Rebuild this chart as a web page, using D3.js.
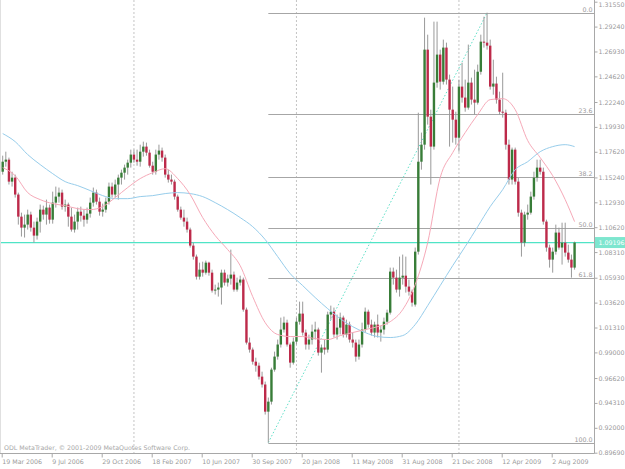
<!DOCTYPE html>
<html>
<head>
<meta charset="utf-8">
<script src="https://cdn.jsdelivr.net/npm/d3@7"></script>
<style>
  body { margin: 0; background: #fff; }
  svg text { font-family: "DejaVu Sans", sans-serif; font-size: 6.3px; fill: #9a9a9a; }
</style>
</head>
<body>
<div id="chart"></div>
<script>
// weekly bars, first bar = 19 Mar 2006
const opens = [1.1577,1.1670,1.1689,1.1485,1.1522,1.1365,1.1160,1.1058,1.1086,1.1179,1.1058,1.0984,1.1114,1.1225,1.1179,1.1244,1.1132,1.1290,1.1346,1.1383,
1.1253,1.1272,1.1160,1.1040,1.1114,1.1206,1.1169,1.1132,1.1188,1.1290,1.1383,1.1299,1.1206,1.1225,1.1299,1.1439,1.1365,1.1458,1.1522,1.1568,
1.1615,1.1661,1.1736,1.1689,1.1670,1.1763,1.1810,1.1754,1.1633,1.1577,1.1736,1.1773,1.1708,1.1550,1.1504,1.1485,1.1346,1.1225,1.1151,1.1114,
1.1040,1.0891,1.0789,1.0603,1.0668,1.0640,1.0733,1.0640,1.0474,1.0483,1.0502,1.0640,1.0548,1.0585,1.0622,1.0483,1.0548,1.0576,1.0297,0.9991,
0.9926,0.9814,0.9777,0.9675,0.9602,0.9350,0.9443,0.9740,0.9861,0.9973,1.0112,1.0176,0.9973,0.9805,1.0000,1.0185,1.0260,1.0084,0.9973,1.0019,
1.0093,1.0112,0.9898,0.9945,0.9926,1.0251,1.0278,1.0066,1.0130,1.0223,1.0066,1.0158,1.0019,0.9991,0.9861,0.9973,1.0112,1.0278,1.0158,1.0084,
1.0158,1.0084,1.0112,1.0185,1.0269,1.0650,1.0594,1.0483,1.0594,1.0612,1.0511,1.0464,1.0344,1.0835,1.1670,1.1828,1.2710,1.2088,1.1810,1.2404,
1.2664,1.2413,1.2729,1.2432,1.2153,1.2060,1.1893,1.2367,1.2265,1.2172,1.2404,1.2246,1.2218,1.2505,1.2784,1.2775,1.2747,1.2367,1.2395,1.2246,
1.2134,1.2125,1.1828,1.1504,1.1782,1.1485,1.1197,1.0919,1.1179,1.1197,1.1346,1.1522,1.1615,1.1577,1.1114,1.0873,1.0761,1.0835,1.1012,1.0873,
1.0919,1.0826,1.0761,1.0687];
const highs = [1.1726,1.1763,1.1708,1.1577,1.1550,1.1383,1.1197,1.1179,1.1225,1.1206,1.1114,1.1151,1.1272,1.1262,1.1318,1.1272,1.1392,1.1439,1.1430,1.1411,
1.1318,1.1290,1.1244,1.1179,1.1244,1.1253,1.1225,1.1244,1.1337,1.1430,1.1411,1.1337,1.1281,1.1337,1.1476,1.1476,1.1504,1.1550,1.1596,1.1643,
1.1689,1.1782,1.1782,1.1782,1.1828,1.1856,1.1847,1.1782,1.1670,1.1782,1.1828,1.1801,1.1736,1.1596,1.1550,1.1504,1.1365,1.1253,1.1225,1.1151,
1.1058,1.0919,1.0808,1.0733,1.0742,1.0752,1.0742,1.0668,1.0529,1.0548,1.0668,1.0668,1.0622,1.0854,1.0650,1.0594,1.0612,1.0594,1.0316,1.0038,
0.9945,0.9851,0.9805,0.9721,0.9629,0.9481,0.9758,0.9907,1.0019,1.0223,1.0232,1.0204,0.9991,1.0038,1.0223,1.0371,1.0371,1.0112,1.0065,1.0158,
1.0185,1.0130,0.9973,1.0019,1.0278,1.0334,1.0316,1.0251,1.0269,1.0241,1.0204,1.0185,1.0084,1.0019,1.0019,1.0176,1.0316,1.0297,1.0204,1.0185,
1.0251,1.0148,1.0223,1.0297,1.0687,1.0687,1.0668,1.0789,1.0808,1.0789,1.0576,1.0483,1.0873,1.2125,1.1940,1.3007,1.2849,1.2153,1.2970,1.2970,
1.2710,1.2803,1.2775,1.2478,1.2367,1.2134,1.2432,1.2589,1.2432,1.2757,1.2450,1.2524,1.2571,1.2849,1.3016,1.3053,1.2803,1.2617,1.2459,1.2320,
1.2496,1.2153,1.1875,1.1801,1.1801,1.1522,1.1225,1.1206,1.1272,1.1392,1.1577,1.1689,1.1689,1.1615,1.1132,1.0900,1.0873,1.1086,1.1058,1.1104,
1.1104,1.0900,1.0808,1.0928];
const lows = [1.1550,1.1624,1.1458,1.1439,1.1337,1.1086,1.0975,1.0966,1.1040,1.1021,1.0919,1.0947,1.1012,1.1132,1.1086,1.1095,1.1095,1.1244,1.1290,1.1225,
1.1206,1.1067,1.1021,1.1012,1.1040,1.1114,1.1067,1.1095,1.1151,1.1253,1.1272,1.1169,1.1160,1.1197,1.1272,1.1337,1.1337,1.1318,1.1458,1.1504,
1.1550,1.1615,1.1661,1.1633,1.1624,1.1717,1.1726,1.1615,1.1550,1.1550,1.1689,1.1670,1.1522,1.1476,1.1458,1.1318,1.1206,1.1132,1.1067,1.1012,
1.0873,1.0761,1.0576,1.0576,1.0603,1.0622,1.0612,1.0455,1.0437,1.0418,1.0344,1.0520,1.0511,1.0529,1.0464,1.0464,1.0520,1.0278,0.9973,0.9898,
0.9787,0.9721,0.9648,0.9574,0.9323,0.9063,0.9416,0.9721,0.9833,0.9945,1.0084,0.9954,0.9758,0.9787,0.9973,1.0158,1.0056,0.9926,0.9926,0.9973,
1.0019,0.9870,0.9712,0.9880,0.9898,1.0204,1.0038,1.0019,1.0066,1.0038,1.0038,0.9991,0.9945,0.9814,0.9833,0.9945,1.0084,1.0130,1.0056,1.0038,
1.0038,1.0000,1.0066,1.0158,1.0251,1.0529,1.0455,1.0418,1.0529,1.0455,1.0427,1.0325,1.0325,1.0808,1.1596,1.1782,1.2014,1.1458,1.1782,1.2357,
1.2339,1.2386,1.2386,1.1810,1.1847,1.1828,1.1763,1.2218,1.2134,1.2153,1.2200,1.2107,1.2200,1.2478,1.2729,1.2710,1.2339,1.2292,1.2209,1.2107,
1.2079,1.1782,1.1458,1.1458,1.1458,1.1160,1.0789,1.0882,1.1132,1.1179,1.1318,1.1485,1.1550,1.1086,1.0835,1.0687,1.0640,1.0808,1.0854,1.0715,
1.0789,1.0733,1.0594,1.0668];
const closes = [1.1670,1.1689,1.1485,1.1522,1.1365,1.1160,1.1058,1.1086,1.1179,1.1058,1.0984,1.1114,1.1225,1.1179,1.1244,1.1132,1.1290,1.1346,1.1383,1.1253,
1.1272,1.1160,1.1040,1.1114,1.1206,1.1169,1.1132,1.1188,1.1290,1.1383,1.1299,1.1206,1.1225,1.1299,1.1439,1.1365,1.1458,1.1522,1.1568,1.1615,
1.1661,1.1736,1.1689,1.1670,1.1763,1.1810,1.1754,1.1633,1.1577,1.1736,1.1773,1.1708,1.1550,1.1504,1.1485,1.1346,1.1225,1.1151,1.1114,1.1040,
1.0891,1.0789,1.0603,1.0668,1.0640,1.0733,1.0640,1.0474,1.0483,1.0502,1.0640,1.0548,1.0585,1.0622,1.0483,1.0548,1.0576,1.0297,0.9991,0.9926,
0.9814,0.9777,0.9675,0.9602,0.9350,0.9443,0.9740,0.9861,0.9973,1.0112,1.0176,0.9973,0.9805,1.0000,1.0185,1.0260,1.0084,0.9973,1.0019,1.0093,
1.0112,0.9898,0.9945,0.9926,1.0251,1.0278,1.0066,1.0130,1.0223,1.0066,1.0158,1.0019,0.9991,0.9861,0.9973,1.0112,1.0278,1.0158,1.0084,1.0158,
1.0084,1.0112,1.0185,1.0269,1.0650,1.0594,1.0483,1.0594,1.0612,1.0511,1.0464,1.0362,1.0835,1.1670,1.1828,1.2710,1.2088,1.1810,1.2404,1.2664,
1.2413,1.2729,1.2432,1.2153,1.2060,1.1893,1.2367,1.2265,1.2172,1.2404,1.2246,1.2218,1.2505,1.2784,1.2775,1.2747,1.2367,1.2395,1.2246,1.2134,
1.2125,1.1828,1.1504,1.1782,1.1485,1.1197,1.0919,1.1179,1.1197,1.1346,1.1522,1.1615,1.1577,1.1114,1.0873,1.0761,1.0835,1.1012,1.0873,1.0919,
1.0826,1.0761,1.0687,1.09196];

// moving averages, read every 4th bar
const maBars = [0,4,8,12,16,20,24,28,32,36,40,44,48,52,56,60,64,68,72,76,80,84,88,92,96,100,104,108,112,116,120,124,128,132,136,140,144,148,152,156,160,164,168,172,176,180,183];
const pinkMA = [1.1615,1.1540,1.1383,1.1318,1.1281,1.1262,1.1234,1.1225,1.1253,1.1337,1.1430,1.1513,1.1568,1.1605,1.1513,1.1365,1.1151,1.0984,1.0854,1.0705,
1.0418,1.0176,1.0066,1.0047,1.0047,1.0028,1.0019,1.0056,1.0084,1.0112,1.0139,1.0185,1.0297,1.0529,1.0919,1.1522,1.1754,1.1940,1.2107,1.2246,
1.2255,1.2153,1.1866,1.1708,1.1540,1.1318,1.1114];
const blueMA = [1.1931,1.1856,1.1736,1.1643,1.1559,1.1485,1.1448,1.1402,1.1355,1.1327,1.1327,1.1346,1.1355,1.1374,1.1383,1.1374,1.1346,1.1290,1.1225,1.1151,
1.1067,1.0947,1.0789,1.0631,1.0520,1.0409,1.0306,1.0213,1.0139,1.0084,1.0047,1.0038,1.0056,1.0158,1.0334,1.0520,1.0705,1.0882,1.1067,1.1253,
1.1411,1.1596,1.1670,1.1763,1.1810,1.1828,1.1810];

// axis labels
const priceTicks = [1.31550,1.29240,1.26930,1.24620,1.22240,1.19930,1.17620,1.15240,1.12930,1.10620,1.08310,1.05930,1.03620,1.01310,0.99000,0.96620,0.94310,0.92000,0.89690];
const tickBars = [0,16,32,48,64,80,96,112,128,144,160,176];
const tickLabels = ["19 Mar 2006","9 Jul 2006","29 Oct 2006","18 Feb 2007","10 Jun 2007","30 Sep 2007","20 Jan 2008","11 May 2008","31 Aug 2008","21 Dec 2008","12 Apr 2009","2 Aug 2009"];
const yearBars = [42, 94, 146];

// fibonacci from the Nov 2007 low to the Mar 2009 high
const fibLevels = [0, 23.6, 38.2, 50, 61.8, 100];
const fibLowBar = 85, fibLow = 0.9063;
const fibHighBar = 155, fibHigh = 1.3053;
const lastPrice = 1.09196;

const W = 625, H = 469;
const plotRight = 594.5, plotBottom = 453.5;

const svg = d3.select("#chart").append("svg")
    .attr("width", W)
    .attr("height", H);

const x = d3.scaleLinear()
    .domain([0, opens.length - 1])
    .range([2.7, 2.7 + 3.125 * (opens.length - 1)]);
const y = d3.scaleLinear()
    .domain([0.8969, 1.3155])
    .range([452.7, 1.7]);

// year separators
svg.append("g").selectAll("line")
    .data(yearBars)
    .join("line")
    .attr("x1", d => x(d)).attr("x2", d => x(d))
    .attr("y1", 0).attr("y2", plotBottom)
    .attr("stroke", "#c4c4c4")
    .attr("stroke-dasharray", "2,2");

// fib levels
const fibPrice = l => fibHigh - (fibHigh - fibLow) * l / 100;
const fib = svg.append("g");
fib.selectAll("line")
    .data(fibLevels)
    .join("line")
    .attr("x1", x(fibLowBar)).attr("x2", plotRight)
    .attr("y1", d => Math.round(y(fibPrice(d))) + 0.5)
    .attr("y2", d => Math.round(y(fibPrice(d))) + 0.5)
    .attr("stroke", "#a6a6a6");
fib.selectAll("text")
    .data(fibLevels)
    .join("text")
    .attr("x", 592.5)
    .attr("y", d => Math.round(y(fibPrice(d))) - 1.5)
    .attr("text-anchor", "end")
    .text(d => d.toFixed(1));

// fib trend line (dotted)
svg.append("line")
    .attr("x1", x(fibLowBar)).attr("y1", y(fibLow))
    .attr("x2", x(fibHighBar)).attr("y2", y(fibHigh))
    .attr("stroke", "#5fe0c8")
    .attr("stroke-width", 1)
    .attr("stroke-dasharray", "1.5,2");

// bid line
svg.append("line")
    .attr("x1", 0).attr("x2", plotRight)
    .attr("y1", y(lastPrice)).attr("y2", y(lastPrice))
    .attr("stroke", "#4fe4c6")
    .attr("stroke-width", 1.2);

// candles
const idx = d3.range(opens.length);
const candles = svg.append("g");
candles.selectAll("line")
    .data(idx)
    .join("line")
    .attr("x1", i => x(i)).attr("x2", i => x(i))
    .attr("y1", i => y(highs[i])).attr("y2", i => y(lows[i]))
    .attr("stroke", "#999")
    .attr("stroke-width", 1);
candles.selectAll("rect")
    .data(idx)
    .join("rect")
    .attr("x", i => x(i) - 1.2)
    .attr("width", 2.4)
    .attr("y", i => y(Math.max(opens[i], closes[i])))
    .attr("height", i => Math.max(1, Math.abs(y(opens[i]) - y(closes[i]))))
    .attr("fill", i => closes[i] >= opens[i] ? "#387d38" : "#bd2a4a");

// moving averages
const maLine = vals => d3.line()
    .x((d, i) => x(maBars[i]))
    .y(d => y(d))
    .curve(d3.curveMonotoneX)(vals);
svg.append("path").attr("d", maLine(blueMA))
    .attr("fill", "none").attr("stroke", "#97cdeb").attr("stroke-width", 1);
svg.append("path").attr("d", maLine(pinkMA))
    .attr("fill", "none").attr("stroke", "#f6a9b8").attr("stroke-width", 1);

// frame
svg.append("line").attr("x1", 0.5).attr("x2", 0.5).attr("y1", 0).attr("y2", plotBottom).attr("stroke", "#e0e0e0");
svg.append("line").attr("x1", plotRight).attr("x2", plotRight).attr("y1", 0).attr("y2", plotBottom).attr("stroke", "#a8a8a8");
svg.append("line").attr("x1", 0).attr("x2", plotRight).attr("y1", plotBottom).attr("y2", plotBottom).attr("stroke", "#a8a8a8");

// price axis
svg.append("g")
    .attr("transform", `translate(${plotRight},0)`)
    .attr("color", "#a8a8a8")
    .call(d3.axisRight(y).tickValues(priceTicks).tickFormat(d3.format(".5f")).tickSize(3).tickPadding(1))
    .call(g => g.select(".domain").remove())
    .selectAll("text")
    .attr("dy", d => d === priceTicks[0] ? "0.75em" : "0.32em");

// time axis
svg.append("g")
    .attr("transform", `translate(-1,${plotBottom})`)
    .attr("color", "#a8a8a8")
    .call(d3.axisBottom(x).tickValues(tickBars).tickFormat((d, i) => tickLabels[i]).tickSize(4).tickPadding(2))
    .call(g => g.select(".domain").remove())
    .selectAll("text")
    .style("text-anchor", "start");

// current price box
const yl = y(lastPrice);
svg.append("rect")
    .attr("x", plotRight + 0.5).attr("y", yl - 5.5)
    .attr("width", W - plotRight).attr("height", 11)
    .attr("fill", "#7ee6cf");
svg.append("text")
    .attr("x", plotRight + 4).attr("y", yl)
    .attr("dy", "0.35em")
    .style("fill", "#fff")
    .text(lastPrice.toFixed(5));

svg.append("text")
    .attr("x", 4).attr("y", 450)
    .style("fill", "#a8a8a8")
    .text("ODL MetaTrader, \u00a9 2001-2009 MetaQuotes Software Corp.");
</script>
</body>
</html>
